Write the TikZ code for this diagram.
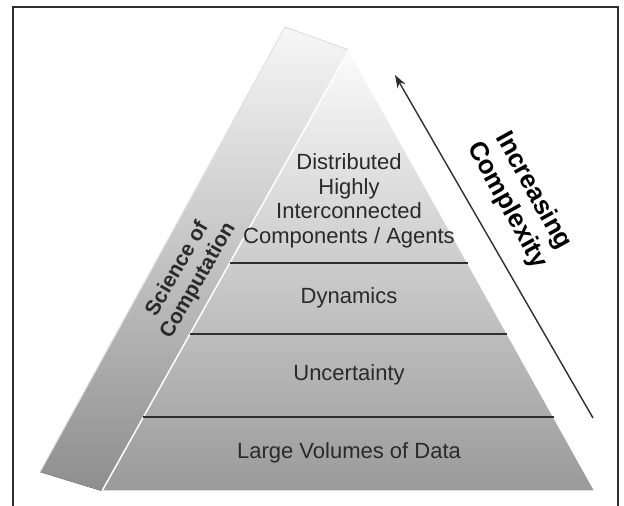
\documentclass[tikz,border=0pt]{standalone}
\usepackage{fontspec}
\setmainfont{Liberation Sans}
\usetikzlibrary{arrows.meta,calc}
\definecolor{facetop}{HTML}{FBFBFB}
\definecolor{facebot}{HTML}{9A9A9A}
\definecolor{sidetop}{HTML}{F7F7F7}
\definecolor{sidebot}{HTML}{8E8E8E}
\definecolor{edgegray}{HTML}{E2E2E2}
\definecolor{linegray}{HTML}{2E2E2E}
\definecolor{labelgray}{HTML}{2A2A2A}
\begin{document}
\begin{tikzpicture}[x=1pt,y=-1pt,>={Stealth[length=13pt,width=9pt]},
	layer/.style={text=labelgray,font=\fontsize{22}{24.5}\selectfont,align=center},
	sidetext/.style={text=labelgray,font=\bfseries\fontsize{21}{24}\selectfont,align=center},
	risetext/.style={text=black,font=\bfseries\fontsize{26}{30}\selectfont,align=center},
	divider/.style={draw=linegray,line width=1.8pt},
	frame/.style={draw=linegray,line width=1.3pt}]
	\useasboundingbox (0,0) rectangle (624,506);
	\coordinate (backtl) at (285,27);
	\coordinate (apex) at (349,50);
	\coordinate (backbl) at (40,472);
	\coordinate (bl) at (102,491);
	\coordinate (br) at (595,491);
	\draw[frame] (13,506) |- (618,7) -- (618,506);

	\fill[top color=sidetop,bottom color=sidebot] (backtl) -- (apex) -- (bl) -- (backbl) -- cycle;
	\draw[edgegray,line width=1pt] (backbl) -- (backtl) -- (apex);
	\filldraw[top color=facetop,bottom color=facebot,draw=white,line width=1.5pt] (apex) -- (br) -- (bl) -- cycle;
	\foreach \t in {0.483,0.644,0.832}
	\draw[divider] ($(apex)!\t!(bl)$) -- ($(apex)!\t!(br)$);

	\node[layer] (agents) at (349,201) {Distributed\\Highly\\Interconnected\\Components / Agents};
	\node[layer] (dynamics) at (349,298) {Dynamics};
	\node[layer] (uncertainty) at (349,375) {Uncertainty};
	\node[layer] (data) at (349,453) {Large Volumes of Data};
	\node[sidetext,rotate=60] (science) at (188,275) {Science of\\Computation};

	\coordinate (risetail) at (593,418);
	\coordinate (risehead) at (395,75);
	\draw[->,linegray,line width=1.4pt] (risetail) -- (risehead);
	\node[risetext,rotate=-61] (rise) at (520,198) {Increasing\\Complexity};
\end{tikzpicture}
\end{document}
